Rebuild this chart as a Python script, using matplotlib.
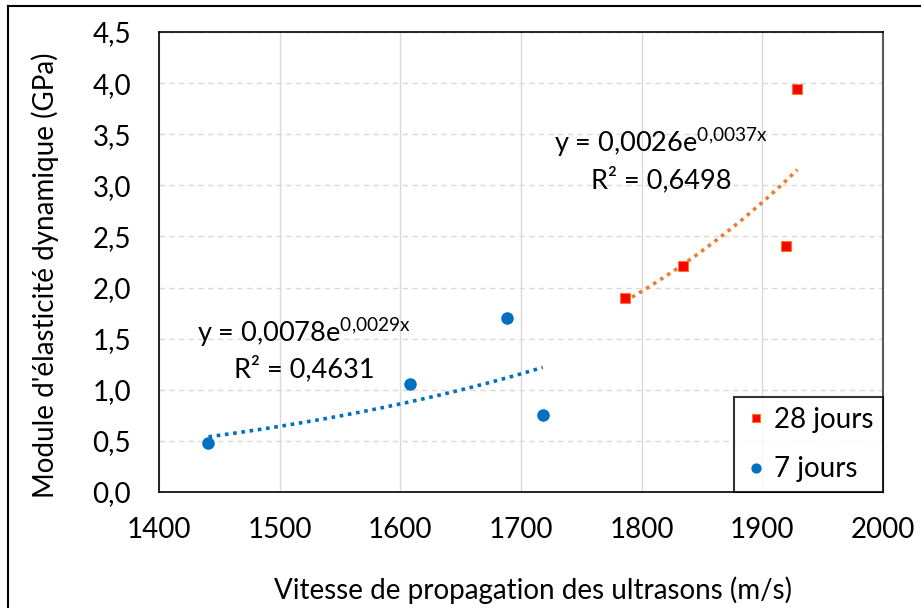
import numpy as np
import matplotlib.pyplot as plt
from matplotlib.lines import Line2D

plt.rcParams['font.family'] = ['Lato', 'DejaVu Sans']
plt.rcParams['mathtext.fontset'] = 'custom'
plt.rcParams['mathtext.rm'] = 'Lato'

# Vitesse (m/s) et module dynamique (GPa)
v_7j = [1441, 1608, 1688, 1718]
e_7j = [0.48, 1.06, 1.70, 0.75]
v_28j = [1786, 1834, 1920, 1929]
e_28j = [1.90, 2.21, 2.41, 3.94]

eq_7j = ["y = 0,0078e$\\mathregular{^{0{,}0029x}}$", "R² = 0,4631"]
eq_28j = ["y = 0,0026e$\\mathregular{^{0{,}0037x}}$", "R² = 0,6498"]

xticks = [1400, 1500, 1600, 1700, 1800, 1900, 2000]
yticks = [0.0, 0.5, 1.0, 1.5, 2.0, 2.5, 3.0, 3.5, 4.0, 4.5]

FS = 20


def exp_fit(x, y):
    """Regression exponentielle y = a*exp(b*x) comme la courbe de tendance d'Excel."""
    b, ln_a = np.polyfit(x, np.log(y), 1)
    return np.exp(ln_a), b


fig = plt.figure(figsize=(9.21, 6.08), dpi=100)
ax = fig.add_axes([159 / 921, 1 - 492 / 608, 724 / 921, 460 / 608])

# cadre exterieur du graphique
fig.add_artist(Line2D([8 / 921, 8 / 921], [0, 1 - 6 / 608], color='black', lw=1.5))
fig.add_artist(Line2D([8 / 921, 1], [1 - 6 / 608, 1 - 6 / 608], color='black', lw=1.5))

# courbes de tendance
for xs, ys, col in [(v_7j, e_7j, '#0070C0'), (v_28j, e_28j, '#ED7D31')]:
    a, b = exp_fit(xs, ys)
    xx = np.linspace(min(xs), max(xs), 100)
    ax.plot(xx, a * np.exp(b * xx), ls=(0, (1, 1.3)), lw=2.6, color=col, zorder=2)

ax.plot(v_28j, e_28j, ls='none', marker='s', ms=7.5, mfc='#FF0000', mec='#F4792B',
        mew=0.8, label='28 jours', zorder=3)
ax.plot(v_7j, e_7j, ls='none', marker='o', ms=8, mfc='#0070C0', mec='#0070C0',
        label='7 jours', zorder=3)

ax.set_xlim(1400, 2000)
ax.set_ylim(0, 4.5)
ax.set_xticks(xticks)
ax.set_yticks(yticks)
ax.set_yticklabels([f"{t:.1f}".replace('.', ',') for t in yticks])
ax.tick_params(length=0, labelsize=FS)
ax.tick_params(axis='x', pad=18)
ax.tick_params(axis='y', pad=20)

ax.grid(axis='x', color='#D9D9D9', lw=1, ls='-')
ax.grid(axis='y', color='#D9D9D9', lw=1, ls=(0, (4, 3)))
ax.set_axisbelow(True)
for side in ['left', 'bottom', 'top']:
    ax.spines[side].set_color('black')
    ax.spines[side].set_linewidth(1.2)
ax.spines['right'].set_color('#595959')
ax.spines['right'].set_linewidth(1.5)

ax.set_xlabel("Vitesse de propagation des ultrasons (m/s)", fontsize=FS, va='center')
ax.xaxis.set_label_coords(0.516, -0.213)
ax.set_ylabel("Module d'élasticité dynamique (GPa)", fontsize=FS, va='center')
ax.yaxis.set_label_coords(-0.157, 0.472)

# equations des courbes de tendance
ax.text(1520, 1.468, eq_7j[0], fontsize=19.5, ha='center', va='baseline')
ax.text(1520, 1.125, eq_7j[1], fontsize=19.5, ha='center', va='baseline')
ax.text(1816, 3.327, eq_28j[0], fontsize=19.5, ha='center', va='baseline')
ax.text(1816, 2.975, eq_28j[1], fontsize=19.5, ha='center', va='baseline')

leg = ax.legend(loc='lower right', fontsize=FS, frameon=True, fancybox=False,
                borderaxespad=0, handletextpad=0.22, handlelength=0.86,
                markerscale=0.8, borderpad=0.35, labelspacing=0.85)
leg.get_frame().set_edgecolor('black')
leg.get_frame().set_linewidth(1.5)

fig.savefig('out.png', dpi=100)
